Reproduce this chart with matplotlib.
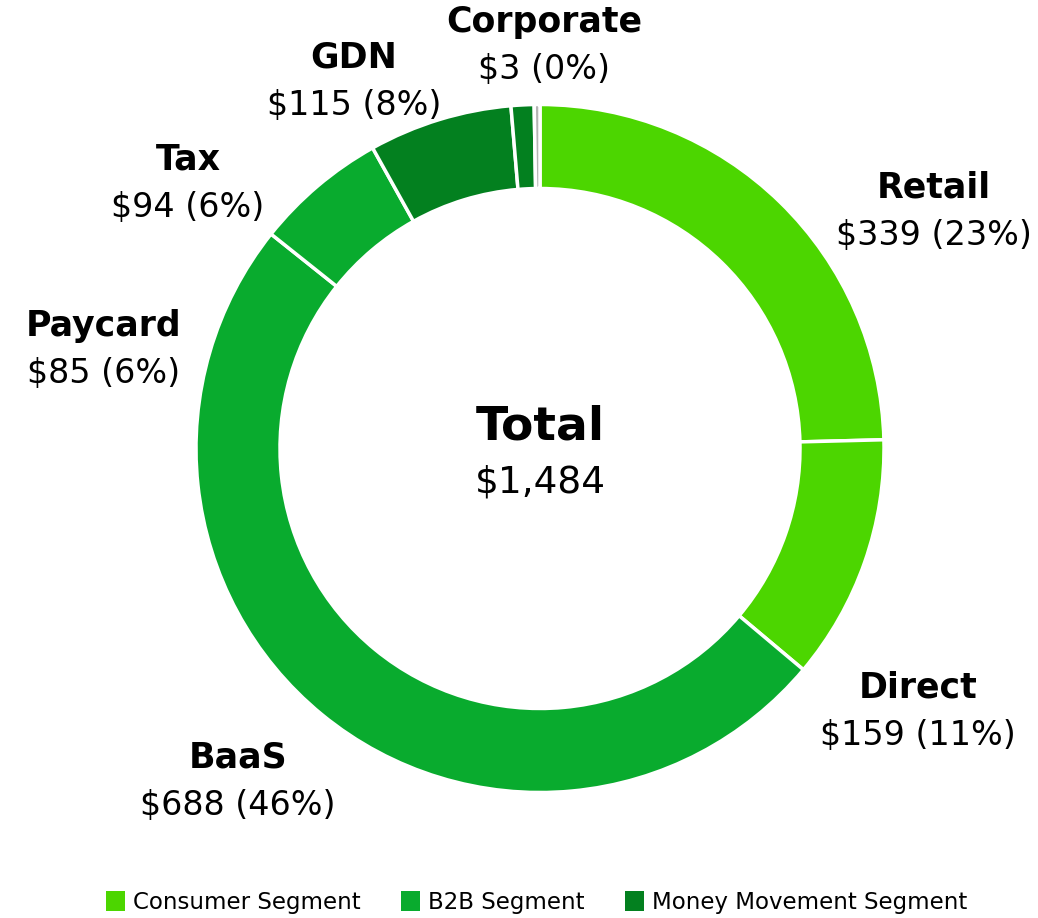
import matplotlib
matplotlib.use('agg')
import matplotlib.pyplot as plt
from matplotlib.patches import Patch

wedge_names = ['Retail', 'Direct', 'B2B', 'Tax', 'GDN', 'GDN other', 'Corporate']
wedge_sizes = [365, 171, 736, 92, 100, 16, 4]
wedge_segment = ['Consumer', 'Consumer', 'B2B', 'B2B', 'Money', 'Money', 'Corporate']

# labels printed around the ring
label_names = ['Corporate', 'GDN', 'Tax', 'Paycard', 'Retail', 'Direct', 'BaaS']
label_amounts = [3, 115, 94, 85, 339, 159, 688]
label_pcts = [0, 8, 6, 6, 23, 11, 46]
total = 1484

segments = ['Consumer Segment', 'B2B Segment', 'Money Movement Segment']
seg_colors = {'Consumer': '#4cd600', 'B2B': '#09ab2e', 'Money': '#03801f', 'Corporate': '#b4b4b4'}

W, H = 1038, 918
fig = plt.figure(figsize=(W / 100, H / 100), dpi=100)
ax = fig.add_axes([0, 0, 1, 1])

cx, cy, r = 540, H - 448.5, 344
ax.pie(wedge_sizes, colors=[seg_colors[s] for s in wedge_segment],
       startangle=90, counterclock=False, center=(cx, cy), radius=r,
       wedgeprops=dict(width=84, edgecolor='white', linewidth=2.5))
ax.set_xlim(0, W)
ax.set_ylim(0, H)
ax.set_aspect('equal')
ax.axis('off')

# label anchor points (pixel coords of name line, from top)
label_pos = {
    'Corporate': (544, 22),
    'GDN': (354, 58),
    'Tax': (188, 160),
    'Paycard': (104, 326),
    'Retail': (934, 187),
    'Direct': (918, 687),
    'BaaS': (238, 757),
}
for name, amt, pct in zip(label_names, label_amounts, label_pcts):
    x, y = label_pos[name]
    ax.text(x, H - y, name, ha='center', va='center', fontsize=25,
            fontweight='bold', color='black')
    ax.text(x, H - y - 48, f'${amt:,} ({pct}%)', ha='center', va='center',
            fontsize=24, color='black')

ax.text(cx, H - 427, 'Total', ha='center', va='center', fontsize=34, fontweight='bold')
ax.text(cx, H - 483, f'${total:,}', ha='center', va='center', fontsize=27)

handles = [Patch(facecolor=seg_colors[k], edgecolor='none') for k in ['Consumer', 'B2B', 'Money']]
fig.legend(handles, segments, loc='lower center', bbox_to_anchor=(0.517, -0.018),
           ncol=3, frameon=False, fontsize=16.5, handlelength=0.85, handleheight=0.9,
           handletextpad=0.35, columnspacing=1.75)

fig.savefig('out.png', dpi=100)
